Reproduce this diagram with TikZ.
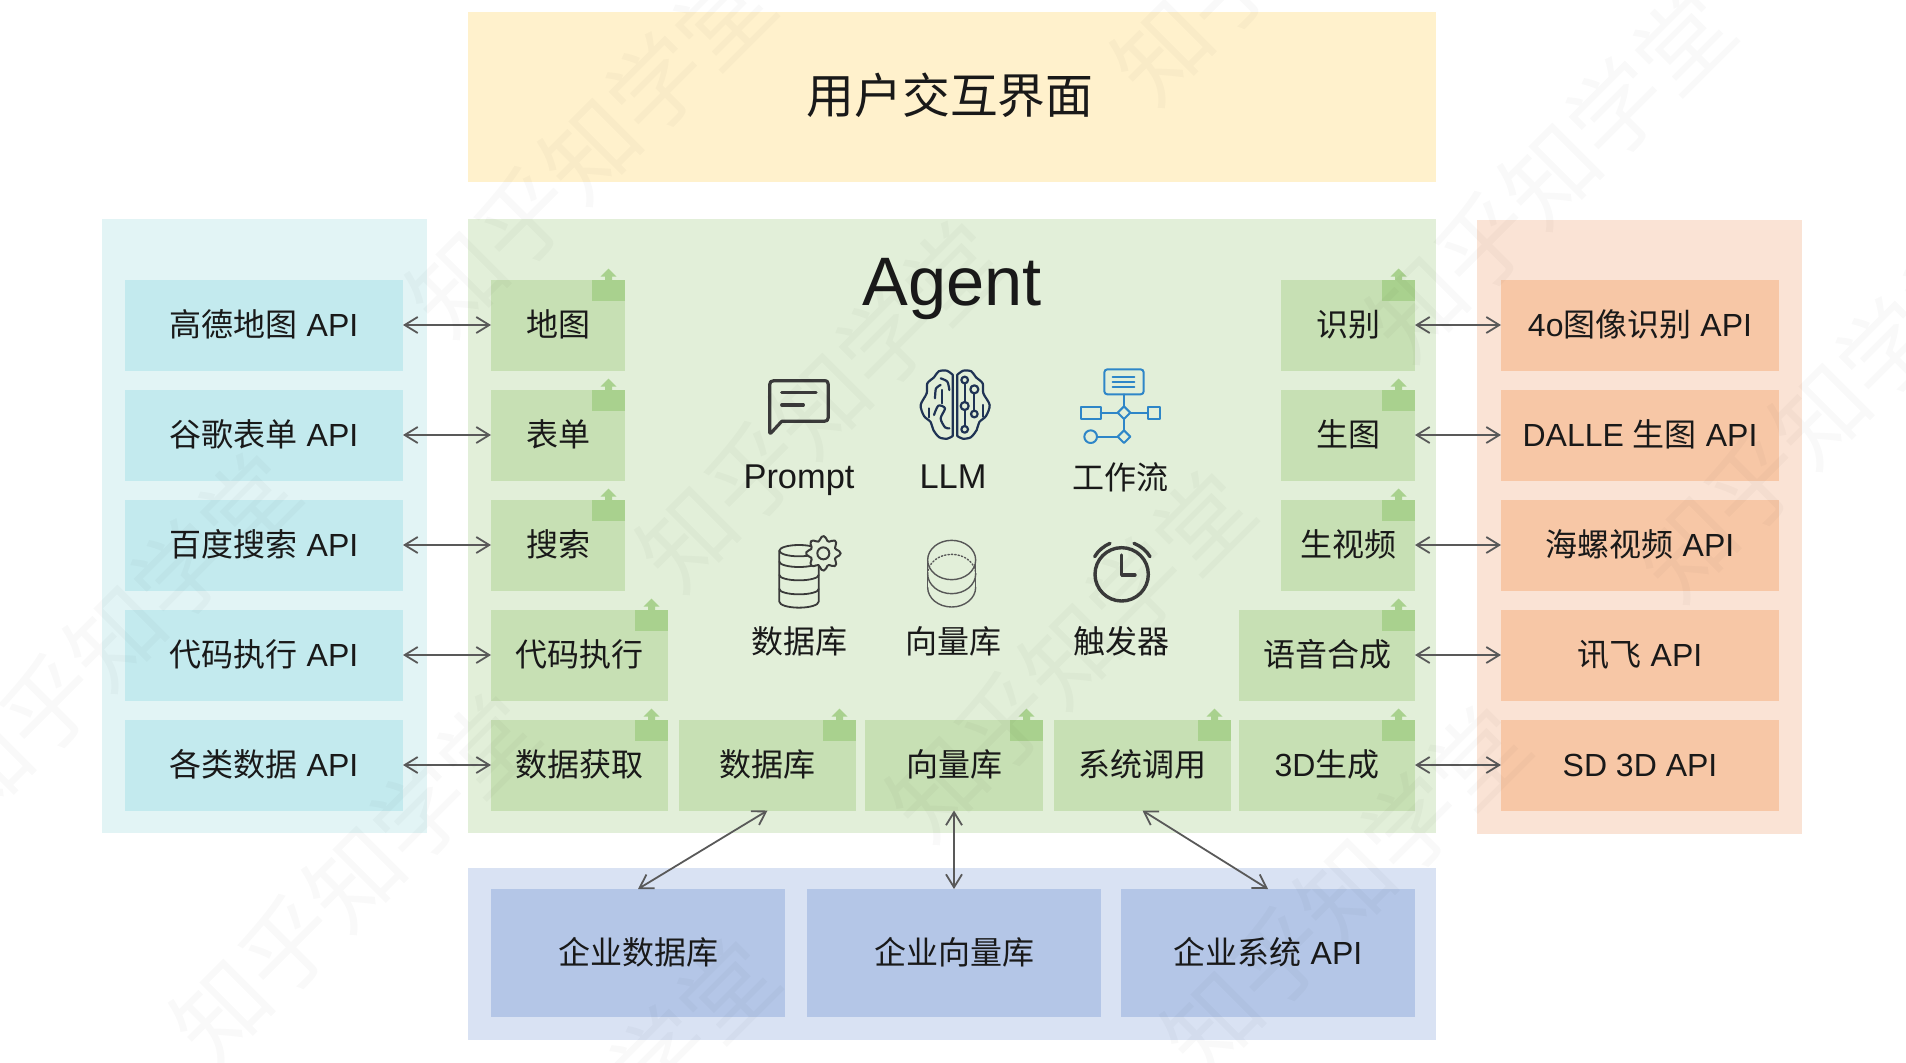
\documentclass[tikz,border=0pt]{standalone}
\usepackage{fontspec}
\setmainfont{Liberation Sans}
\newfontfamily\cjk{Noto Sans CJK SC}
\usepackage{xcolor}
\usetikzlibrary{positioning,calc,arrows.meta}

\definecolor{yellowpanel}{HTML}{FFF1CC}
\definecolor{agentpanel}{HTML}{E2EFD9}
\definecolor{agentbox}{HTML}{C7E0B4}
\definecolor{tagfill}{HTML}{A9D18E}
\definecolor{leftpanel}{HTML}{E2F4F5}
\definecolor{leftbox}{HTML}{C3EAEE}
\definecolor{rightpanel}{HTML}{FAE3D5}
\definecolor{rightbox}{HTML}{F7C7A6}
\definecolor{bottompanel}{HTML}{D9E2F3}
\definecolor{bottombox}{HTML}{B4C6E7}
\definecolor{arrowgray}{HTML}{595959}
\definecolor{iconblue}{HTML}{2E86C8}
\definecolor{iconnavy}{HTML}{1F3354}
\definecolor{icondark}{HTML}{3A3A3A}

\tikzset{
	panel/.style={anchor=north west,inner sep=0pt,outer sep=0pt},
	box/.style={inner sep=0pt,outer sep=0pt,minimum height=45.5pt,text height=12pt,text depth=1pt,text=black!90,font=\fontsize{16}{18}\selectfont},
	apil/.style={box,fill=leftbox,minimum width=139pt},
	apir/.style={box,fill=rightbox,minimum width=139pt},
	small/.style={box,fill=agentbox,minimum width=67pt},
	wide/.style={box,fill=agentbox,minimum width=88.5pt},
	ent/.style={box,fill=bottombox,minimum height=64pt},
	label/.style={inner sep=0pt,text=black!90,font=\fontsize{17.2}{20}\selectfont},
	cjklabel/.style={inner sep=0pt,text=black!90,font=\cjk\fontsize{16}{18}\selectfont},
	link/.style={{Straight Barb[length=6.5pt,width=8pt]}-{Straight Barb[length=6.5pt,width=8pt]},line width=0.9pt,draw=arrowgray},
	watermark/.style={rotate=45,inner sep=0pt,text=black,opacity=0.025,font=\cjk\fontsize{47}{50}\selectfont}
}
\newcommand{\tagmark}[1]{
	\fill[tagfill] ($(#1.north east)+(-33,0)$) rectangle ($(#1.north east)+(0,21)$);
	\fill[tagfill] ($(#1.north east)+(-20,1)$) -- ++(0,-4) -- ++(-4.5,0) -- ++(8,-8) -- ++(8,8) -- ++(-4.5,0) -- ++(0,4) -- cycle;
}

\begin{document}
\begin{tikzpicture}[x=0.5pt,y=-0.5pt]
	\useasboundingbox (0,0) rectangle (1906,1062);
	
	% panels
	\node[panel,fill=yellowpanel,minimum width=484pt,minimum height=85pt] (ui) at (468,12) {};
	\node[panel,fill=leftpanel,minimum width=162.5pt,minimum height=307pt] (leftp) at (102,219) {};
	\node[panel,fill=agentpanel,minimum width=484pt,minimum height=307pt] (agentp) at (468,219) {};
	\node[panel,fill=rightpanel,minimum width=162.5pt,minimum height=307pt] (rightp) at (1477,220) {};
	\node[panel,fill=bottompanel,minimum width=484pt,minimum height=86pt] (entp) at (468,868) {};
	\node[inner sep=0pt,text=black!90,font=\cjk\fontsize{23.9}{28}\selectfont] (uititle) at (950,95) {用户交互界面};
	
	% left column
	\node[apil] (gaode) at (264,325) {{\cjk 高德地图} API};
	\node[apil] (guge) [below=9.5pt of gaode] {{\cjk 谷歌表单} API};
	\node[apil] (baidu) [below=9.5pt of guge] {{\cjk 百度搜索} API};
	\node[apil] (codeapi) [below=9.5pt of baidu] {{\cjk 代码执行} API};
	\node[apil] (dataapi) [below=9.5pt of codeapi] {{\cjk 各类数据} API};
	
	% right column
	\node[apir] (vision) at (1640,325) {4o{\cjk 图像识别} API};
	\node[apir] (dalle) [below=9.5pt of vision] {DALLE {\cjk 生图} API};
	\node[apir] (hailuo) [below=9.5pt of dalle] {{\cjk 海螺视频} API};
	\node[apir] (xunfei) [below=9.5pt of hailuo] {{\cjk 讯飞} API};
	\node[apir] (sd) [below=9.5pt of xunfei] {SD 3D API};
	
	% tools
	\node[small] (map) [right=44pt of gaode] {\cjk 地图};
	\node[small] (form) [right=44pt of guge] {\cjk 表单};
	\node[small] (search) [right=44pt of baidu] {\cjk 搜索};
	\node[wide] (code) [right=44pt of codeapi] {\cjk 代码执行};
	\node[wide] (fetch) [right=44pt of dataapi] {\cjk 数据获取};
	\node[wide] (db) [right=5.5pt of fetch] {\cjk 数据库};
	\node[wide,minimum width=89pt] (vec) [right=4.5pt of db] {\cjk 向量库};
	\node[wide] (sys) [right=5.5pt of vec] {\cjk 系统调用};
	\node[wide,minimum width=88pt] (gen) [left=43pt of sd] {3D{\cjk 生成}};
	\node[wide,minimum width=88pt] (tts) [left=43pt of xunfei] {\cjk 语音合成};
	\node[small] (recog) [left=43pt of vision] {\cjk 识别};
	\node[small] (pic) [left=43pt of dalle] {\cjk 生图};
	\node[small] (video) [left=43pt of hailuo] {\cjk 生视频};
	\foreach \n in {map,form,search,code,fetch,db,vec,sys,gen,tts,recog,pic,video}
		\tagmark{\n};
	
	% enterprise
	\node[ent,minimum width=147pt] (entdb) at (638,953) {\cjk 企业数据库};
	\node[ent,minimum width=147pt] (entvec) [right=11pt of entdb] {\cjk 企业向量库};
	\node[ent,minimum width=147pt] (entsys) [right=10pt of entvec] {{\cjk 企业系统} API};
	
	% titles
	\node[anchor=base,inner sep=0pt,text=black!90,font=\fontsize{34.3}{40}\selectfont] (agent) at (952,305) {Agent};
	\node[label,anchor=base] (prompt) at (799,488) {Prompt};
	\node[label,anchor=base] (llm) at (953,488) {LLM};
	\node[cjklabel] (flow) at (1120,477) {工作流};
	\node[cjklabel] (store) at (799,641) {数据库};
	\node[cjklabel] (vstore) at (953,641) {向量库};
	\node[cjklabel] (trigger) at (1121,641) {触发器};
	
	% connections
	\foreach \a/\b in {gaode/map,guge/form,baidu/search,codeapi/code,dataapi/fetch,recog/vision,pic/dalle,video/hailuo,tts/xunfei,gen/sd}
		\draw[link] (\a) -- (\b);
	\draw[link] (db.south) -- (entdb.north);
	\draw[link] (vec.south) -- (entvec.north);
	\draw[link] (sys.south) -- (entsys.north);
	
	% icons, in thirds of a pixel
	\begin{scope}[shift={(700,340)},scale=1/3,line cap=round,line join=round]
	% prompt
	\draw[icondark,line width=1.6pt] (222,122) -- (372,122) .. controls (382,122) and (385,126) .. (385,134) -- (385,232) .. controls (385,241) and (380,244) .. (372,244) -- (245,244) -- (212,280) -- (209,278) -- (209,134) .. controls (209,126) and (213,122) .. (222,122) -- cycle;
	\draw[icondark,line width=1.6pt] (245,158) -- (348,158) (245,195) -- (310,195);
	% brain
	\begin{scope}[iconnavy,line width=1.1pt]
	\draw plot[smooth] coordinates {(758,288) (742,296) (718,292) (700,270) (692,246) (672,228) (662,195) (680,160) (682,130) (702,112) (716,94) (740,92) (758,104)} -- cycle;
	\draw plot[smooth] coordinates {(772,288) (788,296) (812,292) (830,270) (838,246) (858,228) (869,195) (850,160) (848,130) (828,112) (814,94) (790,92) (772,104)} -- cycle;
	\draw plot[smooth] coordinates {(722,115) (742,125) (748,150)};
	\draw plot[smooth] coordinates {(705,175) (708,145) (722,135)};
	\draw (725,150) -- (725,190) (688,205) -- (688,232);
	\draw plot[smooth] coordinates {(702,225) (715,197) (735,205) (722,235) (735,262) (748,265)};
	\draw (794,120) circle[radius=10] (823,148) circle[radius=12] (794,198) circle[radius=12] (823,222) circle[radius=10] (794,268) circle[radius=10];
	\draw (794,130) -- (794,186) (823,160) -- (823,212) (794,210) -- (794,258) (850,195) -- (850,230);
	\end{scope}
	% workflow
	\begin{scope}[iconblue,line width=1pt]
	\draw[rounded corners=1.5pt] (1213,88) rectangle (1331,163);
	\draw (1238,112) -- (1303,112) (1238,127) -- (1303,127) (1238,142) -- (1303,142);
	\draw (1272,163) -- (1272,199) (1272,237) -- (1272,271);
	\draw (1272,199) -- (1291,218) -- (1272,237) -- (1253,218) -- cycle;
	\draw (1272,271) -- (1291,290) -- (1272,309) -- (1253,290) -- cycle;
	\draw (1143,200) rectangle (1202,238) (1343,200) rectangle (1381,238);
	\draw (1202,218) -- (1253,218) (1291,218) -- (1343,218) (1191,290) -- (1253,290);
	\draw (1172,290) circle[radius=19];
	\end{scope}
	% database
	\begin{scope}[icondark,line width=0.9pt]
	\draw (297,632) ellipse[x radius=59,y radius=17];
	\draw (238,632) -- (238,785) arc[start angle=180,end angle=0,x radius=59,y radius=18] -- (356,632);
	\foreach \yy in {665,705,747}
		\draw (238,\yy) arc[start angle=180,end angle=0,x radius=59,y radius=16];
	\filldraw[fill=agentpanel,line width=1pt] plot[smooth cycle,domain=0:352,samples=45] ({370+(45+7*cos(8*\x))*cos(\x)},{640+(45+7*cos(8*\x))*sin(\x)});
	\draw[line width=1pt] (370,640) circle[radius=18];
	\end{scope}
	% vector store
	\begin{scope}[icondark!85,line width=0.7pt]
	\draw (755,660) ellipse[x radius=72,y radius=59];
	\draw[densely dotted] (683,702) arc[start angle=180,end angle=0,x radius=72,y radius=-59];
	\draw (683,702) arc[start angle=180,end angle=0,x radius=72,y radius=59];
	\draw (683,742) arc[start angle=180,end angle=0,x radius=72,y radius=59];
	\draw (683,660) -- (683,742) (827,660) -- (827,742);
	\end{scope}
	% clock
	\begin{scope}[icondark,line width=1.7pt]
	\draw (1265,703) circle[radius=80];
	\draw (1265,645) -- (1265,705) -- (1305,705);
	\draw (1184,650) .. controls (1194,632) and (1212,618) .. (1230,610);
	\draw (1350,650) .. controls (1340,632) and (1322,618) .. (1302,610);
	\end{scope}
	\end{scope}
	
	% watermark
	\foreach \wx/\wy in {590/150,820/405,1070/655,1345/890,115/637,354/878,594/1123,1295/-82,1550/175,1820/415}
		\node[watermark] (wm\wx) at (\wx,\wy) {知乎知学堂};
	
\end{tikzpicture}
\end{document}
